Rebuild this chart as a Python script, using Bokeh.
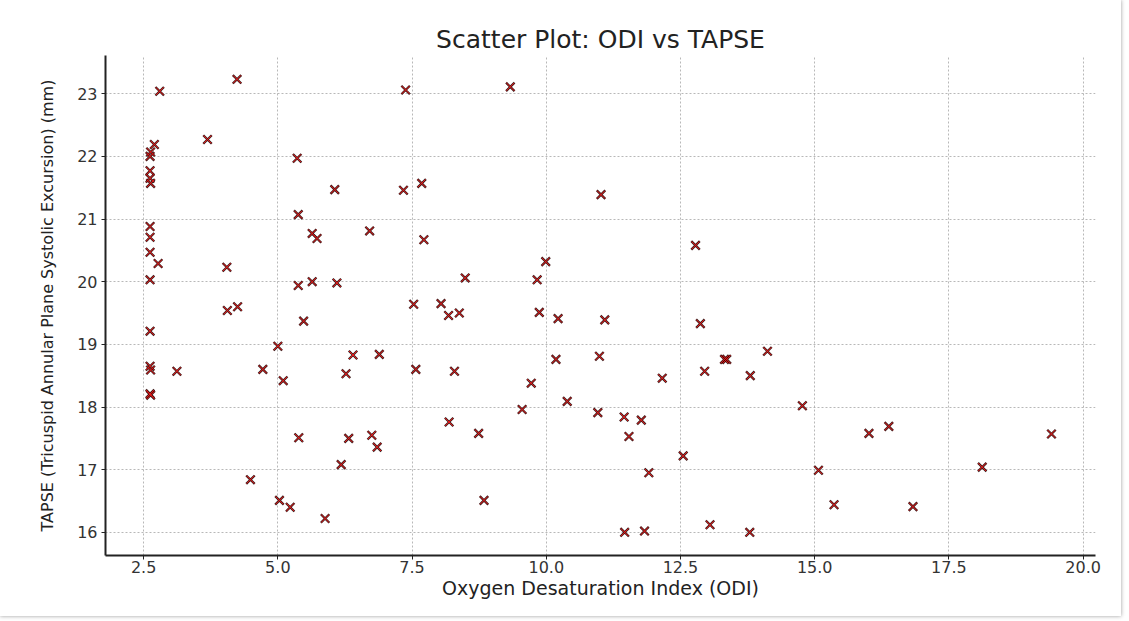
from bokeh.plotting import figure
from bokeh.models import Range1d, FixedTicker, NumeralTickFormatter, ColumnDataSource
from bokeh.embed import file_html
from bokeh.resources import INLINE

# ---- data ----
odi = [2.70, 2.63, 2.62, 2.62, 2.62, 2.63, 2.62, 2.62, 2.62, 2.62,
       2.77, 2.80, 2.62, 2.62, 2.63, 2.62, 2.63, 3.12, 3.69, 4.24,
       4.05, 4.06, 4.25, 4.72, 4.49, 5.00, 5.10, 5.03, 5.23, 5.36,
       5.38, 5.38, 5.39, 5.48, 5.64, 5.73, 5.64, 5.88, 6.06, 6.10,
       6.18, 6.27, 6.40, 6.32, 6.71, 6.75, 6.85, 6.89, 7.38, 7.34,
       7.68, 7.72, 7.53, 7.57, 8.04, 8.18, 8.38, 8.29, 8.19, 8.49,
       8.74, 8.84, 9.33, 9.83, 9.99, 9.87, 9.72, 9.55, 10.22, 10.18,
       10.39, 11.02, 11.09, 10.99, 10.96, 11.45, 11.77, 11.54, 11.91, 11.46,
       11.83, 12.16, 12.55, 12.78, 12.87, 12.95, 13.32, 13.36, 13.05, 13.80,
       14.12, 13.79, 14.77, 15.07, 15.36, 16.01, 16.38, 16.83, 18.12, 19.41]
tapse = [22.19, 22.07, 22.00, 21.77, 21.65, 21.57, 20.88, 20.71, 20.47, 20.03,
         20.29, 23.04, 19.21, 18.65, 18.59, 18.21, 18.19, 18.57, 22.27, 23.23,
         20.23, 19.54, 19.60, 18.60, 16.84, 18.97, 18.42, 16.51, 16.40, 21.97,
         21.07, 19.94, 17.51, 19.37, 20.77, 20.69, 20.00, 16.22, 21.47, 19.98,
         17.08, 18.53, 18.83, 17.50, 20.81, 17.55, 17.36, 18.84, 23.06, 21.46,
         21.57, 20.67, 19.64, 18.60, 19.65, 19.46, 19.50, 18.57, 17.76, 20.06,
         17.58, 16.51, 23.11, 20.03, 20.32, 19.51, 18.38, 17.96, 19.41, 18.76,
         18.09, 21.39, 19.39, 18.81, 17.91, 17.84, 17.79, 17.53, 16.95, 16.00,
         16.02, 18.46, 17.22, 20.58, 19.33, 18.57, 18.76, 18.76, 16.12, 18.50,
         18.89, 16.00, 18.02, 16.99, 16.44, 17.58, 17.69, 16.41, 17.04, 17.57]
x_ticks = [2.5, 5.0, 7.5, 10.0, 12.5, 15.0, 17.5, 20.0]
y_ticks = [16, 17, 18, 19, 20, 21, 22, 23]

title_text = "Scatter Plot: ODI vs TAPSE"
x_label = "Oxygen Desaturation Index (ODI)"
y_label = "TAPSE (Tricuspid Annular Plane Systolic Excursion) (mm)"

FONT = "DejaVu Sans"

src = ColumnDataSource(dict(x=odi, y=tapse))

p = figure(frame_width=990, frame_height=500,
           x_range=Range1d(1.79, 20.23), y_range=Range1d(15.63, 23.61),
           output_backend="svg", toolbar_location=None,
           min_border_left=105, min_border_right=26,
           min_border_top=55, min_border_bottom=61,
           title=title_text)
p.styles = {"box-shadow": "0 0 4px #9a9a9a"}
p.background_fill_color = "white"
p.border_fill_color = "white"
p.outline_line_color = None

p.title.align = "center"
p.title.text_font = FONT
p.title.text_font_size = "25px"
p.title.text_font_style = "normal"
p.title.text_color = "#222222"
p.title.standoff = 3

# axes
for ax in (p.xaxis[0], p.yaxis[0]):
    ax.axis_line_width = 2
    ax.axis_line_color = "#222222"
    ax.major_tick_line_color = "#222222"
    ax.major_tick_out = 4
    ax.major_tick_in = 0
    ax.minor_tick_line_color = None
    ax.major_label_text_font = FONT
    ax.major_label_text_font_size = "16px"
    ax.major_label_text_color = "#333333"
    ax.axis_label_text_font = FONT
    ax.axis_label_text_font_style = "normal"
    ax.axis_label_text_color = "#222222"

p.xaxis.ticker = FixedTicker(ticks=x_ticks)
p.yaxis.ticker = FixedTicker(ticks=y_ticks)
p.xaxis.formatter = NumeralTickFormatter(format="0.0")
p.yaxis.formatter = NumeralTickFormatter(format="0")
p.xaxis.axis_label = x_label
p.yaxis.axis_label = y_label
p.xaxis.axis_label_text_font_size = "19px"
p.yaxis.axis_label_text_font_size = "16px"
p.xaxis.major_label_standoff = 1
p.yaxis.major_label_standoff = 4
p.xaxis.axis_label_standoff = 1
p.yaxis.axis_label_standoff = 17

# grid
for g in (p.xgrid[0], p.ygrid[0]):
    g.grid_line_color = "#a0a0a0"
    g.grid_line_dash = "2 2"
    g.grid_line_width = 1
    g.grid_line_alpha = 0.75

# markers: dark outline with red core
p.scatter("x", "y", source=src, marker="x", size=12,
          line_color="#2a0505", line_width=2.3, line_alpha=0.9)
p.scatter("x", "y", source=src, marker="x", size=11,
          line_color="#f01818", line_width=1.0)

open("out.html", "w").write(file_html(p, INLINE))
